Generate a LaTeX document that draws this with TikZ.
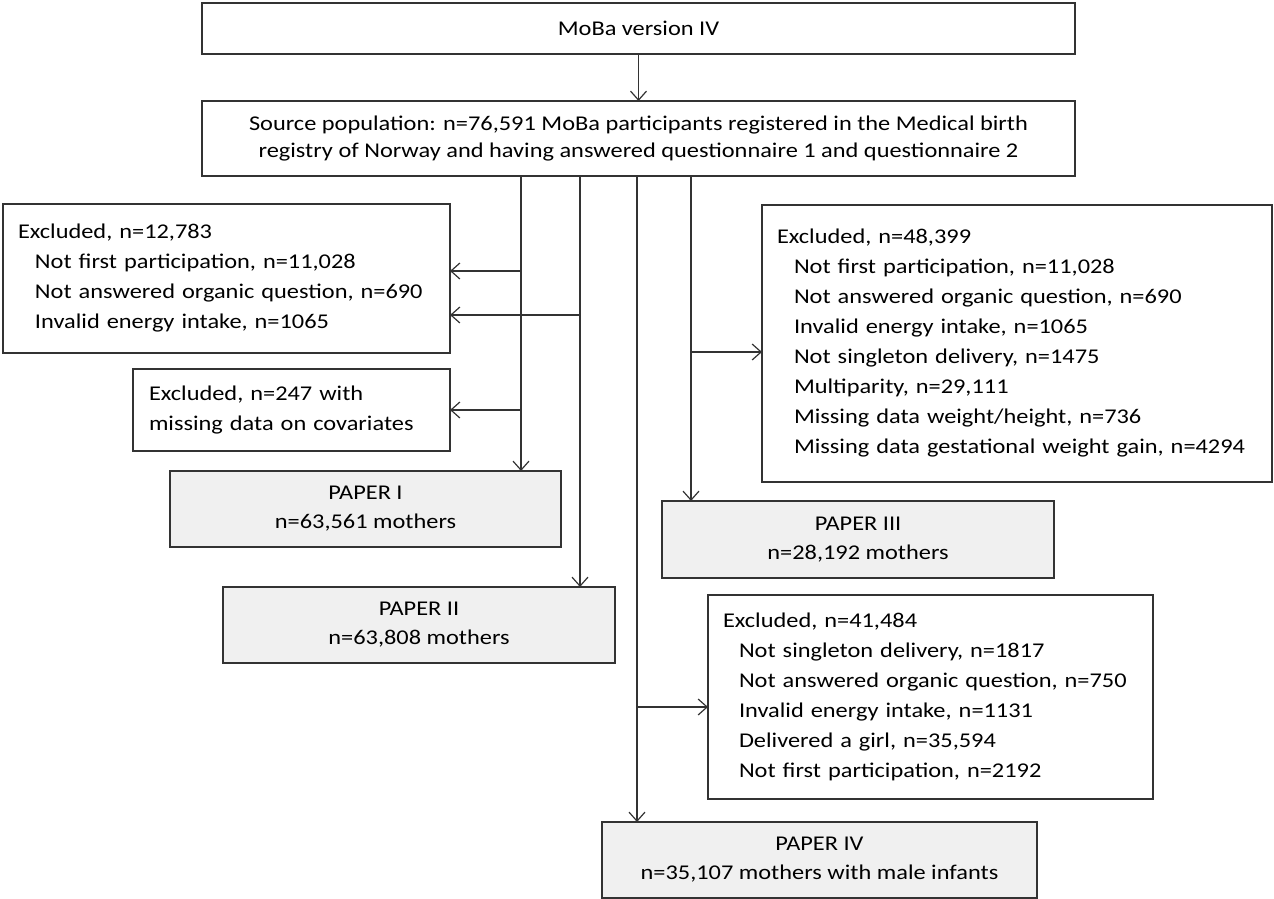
\documentclass[tikz,border=0pt]{standalone}
\usepackage{fontspec}
\setmainfont{Carlito}[FakeStretch=1.16]
\usetikzlibrary{arrows.meta}

\begin{document}
\begin{tikzpicture}[x=1pt,y=-1pt,line width=1.2pt,
  font=\fontsize{21}{30}\selectfont,
  box/.style={draw=black!80,line width=1.2pt,anchor=north west,inner sep=0pt,outer sep=0pt},
  paper/.style={box,fill=black!6,align=center,font=\fontsize{21}{29}\selectfont},
  arr/.style={draw=black!80,-{Straight Barb[length=9pt,width=16pt]}}]
\useasboundingbox (0,0) rectangle (1274,899);
% top boxes
\node[box,minimum width=873,minimum height=51] (moba) at (202,3) {MoBa version IV};
\node[box,minimum width=873,minimum height=75,align=center,font=\fontsize{21}{27}\selectfont] (src) at (202,101)
  {Source population: n=76,591 MoBa participants registered in the Medical birth\\
   registry of Norway and having answered questionnaire 1 and questionnaire 2};
% exclusion boxes
\node[box,minimum height=149,text width=417,inner xsep=15,align=left] (ex1) at (3,204)
  {Excluded, n=12,783\\
   \hspace*{17pt}Not first participation, n=11,028\\
   \hspace*{17pt}Not answered organic question, n=690\\
   \hspace*{17pt}Invalid energy intake, n=1065};
\node[box,minimum height=82,text width=285,inner xsep=16,align=left] (ex2) at (133,369)
  {Excluded, n=247 with\\ missing data on covariates};
\node[box,minimum height=277,text width=480,inner xsep=15,align=left] (ex3) at (762,205)
  {Excluded, n=48,399\\
   \hspace*{17pt}Not first participation, n=11,028\\
   \hspace*{17pt}Not answered organic question, n=690\\
   \hspace*{17pt}Invalid energy intake, n=1065\\
   \hspace*{17pt}Not singleton delivery, n=1475\\
   \hspace*{17pt}Multiparity, n=29,111\\
   \hspace*{17pt}Missing data weight/height, n=736\\
   \hspace*{17pt}Missing data gestational weight gain, n=4294};
\node[box,minimum height=204,text width=415,inner xsep=15,align=left] (ex4) at (708,595)
  {Excluded, n=41,484\\
   \hspace*{16pt}Not singleton delivery, n=1817\\
   \hspace*{16pt}Not answered organic question, n=750\\
   \hspace*{16pt}Invalid energy intake, n=1131\\
   \hspace*{16pt}Delivered a girl, n=35,594\\
   \hspace*{16pt}Not first participation, n=2192};
% paper boxes
\node[paper,minimum width=391,minimum height=76] (p1) at (170,471) {PAPER I\\ n=63,561 mothers};
\node[paper,minimum width=392,minimum height=76] (p2) at (223,587) {PAPER II\\ n=63,808 mothers};
\node[paper,minimum width=392,minimum height=77] (p3) at (662,501) {PAPER III\\ n=28,192 mothers};
\node[paper,minimum width=435,minimum height=76] (p4) at (602,822) {PAPER IV\\ n=35,107 mothers with male infants};
% connectors
\coordinate (c1) at (521,0);
\coordinate (c2) at (580,0);
\coordinate (c3) at (637,0);
\coordinate (c4) at (691,0);
\draw[arr] (moba) -- (src);
\draw[arr] (c1 |- src.south) -- (c1 |- p1.north);
\draw[arr] (c2 |- src.south) -- (c2 |- p2.north);
\draw[arr] (c3 |- src.south) -- (c3 |- p4.north);
\draw[arr] (c4 |- src.south) -- (c4 |- p3.north);
\draw[arr] (c1 |- 0,271) -- (ex1.east |- 0,271);
\draw[arr] (c2 |- 0,315) -- (ex1.east |- 0,315);
\draw[arr] (c1 |- ex2.east) -- (ex2.east);
\draw[arr] (c4 |- 0,352) -- (ex3.west |- 0,352);
\draw[arr] (c3 |- 0,707) -- (ex4.west |- 0,707);
\end{tikzpicture}
\end{document}
